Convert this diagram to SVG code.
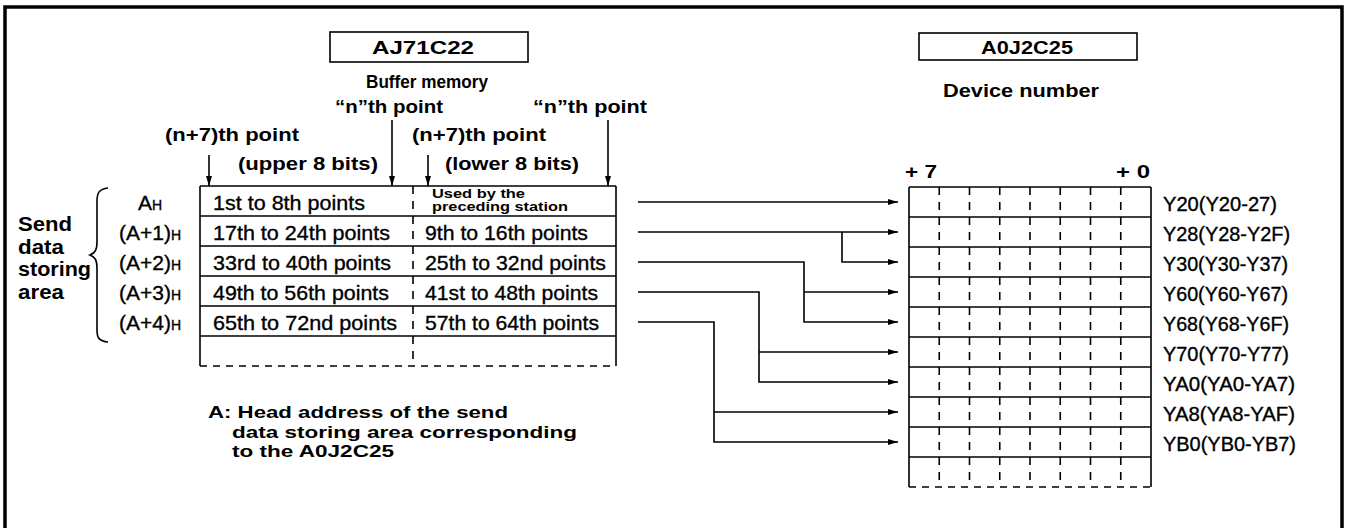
<svg xmlns="http://www.w3.org/2000/svg" width="1345" height="528" viewBox="0 0 1345 528">
<defs>
<style>
text{font-family:"Liberation Sans",Arial,sans-serif;fill:#000}
.h{font-size:19px;font-weight:bold}
.n{font-size:20px;font-weight:bold}
.m{font-size:17px;font-weight:bold}
.b{font-size:18px;font-weight:bold}
.t{font-size:21px;stroke:#000;stroke-width:.35}
.s{font-size:12px;font-weight:bold}
.y{font-size:19.5px;stroke:#000;stroke-width:.35}
.ln{fill:none;stroke:#000;stroke-width:1.6}
.dl{fill:none;stroke:#000;stroke-width:1.6;stroke-dasharray:7 6}
.dv{fill:none;stroke:#000;stroke-width:1.6;stroke-dasharray:8 7}
.cn{fill:none;stroke:#000;stroke-width:1.6}
</style>
<marker id="ah" viewBox="0 0 10 6" refX="10" refY="3" markerWidth="10" markerHeight="6" markerUnits="userSpaceOnUse" orient="auto"><path d="M0,0 L10,3 L0,6z" fill="#000"/></marker>
</defs>
<rect width="1345" height="528" fill="#fff"/>
<path d="M5,530 V7 H1342 V530" fill="none" stroke="#000" stroke-width="3.5"/>

<g id="ajbox">
<rect x="330" y="32" width="198" height="30" class="ln" stroke-width="2"/>
<text class="h" x="372" y="54" textLength="102" lengthAdjust="spacingAndGlyphs">AJ71C22</text>
</g>
<g id="a0box">
<rect x="919" y="33" width="218" height="27" class="ln" stroke-width="2"/>
<text class="h" x="981" y="54" textLength="92" lengthAdjust="spacingAndGlyphs">A0J2C25</text>
</g>

<g id="headers">
<text class="b" x="366" y="88" textLength="122" lengthAdjust="spacingAndGlyphs">Buffer memory</text>
<text class="h" x="335" y="113" textLength="108" lengthAdjust="spacingAndGlyphs">“n”th point</text>
<text class="h" x="533" y="113" textLength="114" lengthAdjust="spacingAndGlyphs">“n”th point</text>
<text class="h" x="165" y="141" textLength="134" lengthAdjust="spacingAndGlyphs">(n+7)th point</text>
<text class="h" x="412" y="141" textLength="134" lengthAdjust="spacingAndGlyphs">(n+7)th point</text>
<text class="h" x="238" y="170" textLength="140" lengthAdjust="spacingAndGlyphs">(upper 8 bits)</text>
<text class="h" x="445" y="170" textLength="134" lengthAdjust="spacingAndGlyphs">(lower 8 bits)</text>
<text class="h" x="943" y="97" textLength="156" lengthAdjust="spacingAndGlyphs">Device number</text>
<text class="h" x="905" y="178" textLength="32" lengthAdjust="spacingAndGlyphs">+ 7</text>
<text class="h" x="1116" y="178" textLength="34" lengthAdjust="spacingAndGlyphs">+ 0</text>
</g>

<g id="side">
<text class="n" x="18" y="231" textLength="54" lengthAdjust="spacingAndGlyphs">Send</text>
<text class="n" x="18" y="254" textLength="46" lengthAdjust="spacingAndGlyphs">data</text>
<text class="n" x="18" y="276" textLength="73" lengthAdjust="spacingAndGlyphs">storing</text>
<text class="n" x="18" y="299" textLength="46" lengthAdjust="spacingAndGlyphs">area</text>
<path d="M108,188 C99,189 97,193 97,201 L97,242 C97,250 95,253 90,255 C95,257 97,260 97,268 L97,330 C97,338 99,341 108,342" class="ln"/>
<text class="t" x="150" y="210" text-anchor="middle">A<tspan font-size="14">H</tspan></text>
<text class="t" x="150" y="240" text-anchor="middle">(A+1)<tspan font-size="14">H</tspan></text>
<text class="t" x="150" y="270" text-anchor="middle">(A+2)<tspan font-size="14">H</tspan></text>
<text class="t" x="150" y="300" text-anchor="middle">(A+3)<tspan font-size="14">H</tspan></text>
<text class="t" x="150" y="330" text-anchor="middle">(A+4)<tspan font-size="14">H</tspan></text>
</g>

<g id="buffer">
<path d="M200,186 V366 M616,186 V366 M200,186 H616 M200,216 H616 M200,246 H616 M200,276 H616 M200,306 H616 M200,336 H616" class="ln"/>
<path d="M200,366 H616" class="dl"/>
<path d="M413,186 V366" class="dv"/>
<text class="t" x="213" y="210" textLength="152" lengthAdjust="spacingAndGlyphs">1st to 8th points</text>
<text class="t" x="213" y="240" textLength="177" lengthAdjust="spacingAndGlyphs">17th to 24th points</text>
<text class="t" x="213" y="270" textLength="178" lengthAdjust="spacingAndGlyphs">33rd to 40th points</text>
<text class="t" x="213" y="300" textLength="176" lengthAdjust="spacingAndGlyphs">49th to 56th points</text>
<text class="t" x="213" y="330" textLength="184" lengthAdjust="spacingAndGlyphs">65th to 72nd points</text>
<text class="s" x="432" y="197.5" textLength="93" lengthAdjust="spacingAndGlyphs">Used by the</text>
<text class="s" x="432" y="211" textLength="136" lengthAdjust="spacingAndGlyphs">preceding station</text>
<text class="t" x="425" y="240" textLength="163" lengthAdjust="spacingAndGlyphs">9th to 16th points</text>
<text class="t" x="425" y="270" textLength="181" lengthAdjust="spacingAndGlyphs">25th to 32nd points</text>
<text class="t" x="425" y="300" textLength="173" lengthAdjust="spacingAndGlyphs">41st to 48th points</text>
<text class="t" x="425" y="330" textLength="174" lengthAdjust="spacingAndGlyphs">57th to 64th points</text>
</g>

<g id="device">
<path d="M909,187 V487 M1151,187 V487 M909,187 H1151 M909,217 H1151 M909,247 H1151 M909,277 H1151 M909,307 H1151 M909,337 H1151 M909,367 H1151 M909,397 H1151 M909,427 H1151 M909,457 H1151" class="ln"/>
<path d="M909,487 H1151" class="dl"/>
<path d="M939.25,187 V487 M969.5,187 V487 M999.75,187 V487 M1030,187 V487 M1060.25,187 V487 M1090.5,187 V487 M1120.75,187 V487" class="dv"/>
<text class="y" x="1163" y="211" textLength="114" lengthAdjust="spacingAndGlyphs">Y20(Y20-27)</text>
<text class="y" x="1163" y="241" textLength="127" lengthAdjust="spacingAndGlyphs">Y28(Y28-Y2F)</text>
<text class="y" x="1163" y="271" textLength="125" lengthAdjust="spacingAndGlyphs">Y30(Y30-Y37)</text>
<text class="y" x="1163" y="301" textLength="125" lengthAdjust="spacingAndGlyphs">Y60(Y60-Y67)</text>
<text class="y" x="1163" y="331" textLength="126" lengthAdjust="spacingAndGlyphs">Y68(Y68-Y6F)</text>
<text class="y" x="1163" y="361" textLength="126" lengthAdjust="spacingAndGlyphs">Y70(Y70-Y77)</text>
<text class="y" x="1163" y="391" textLength="132" lengthAdjust="spacingAndGlyphs">YA0(YA0-YA7)</text>
<text class="y" x="1163" y="421" textLength="132" lengthAdjust="spacingAndGlyphs">YA8(YA8-YAF)</text>
<text class="y" x="1163" y="451" textLength="133" lengthAdjust="spacingAndGlyphs">YB0(YB0-YB7)</text>
</g>

<g id="note">
<text class="m" x="208" y="418" textLength="300" lengthAdjust="spacingAndGlyphs">A: Head address of the send</text>
<text class="m" x="232" y="437.5" textLength="345" lengthAdjust="spacingAndGlyphs">data storing area corresponding</text>
<text class="m" x="232" y="457" textLength="162" lengthAdjust="spacingAndGlyphs">to the A0J2C25</text>
</g>

<g id="connectors">
<path d="M209,155 V186" class="cn" marker-end="url(#ah)"/>
<path d="M392,120 V186" class="cn" marker-end="url(#ah)"/>
<path d="M428,155 V186" class="cn" marker-end="url(#ah)"/>
<path d="M608,120 V186" class="cn" marker-end="url(#ah)"/>
<path d="M638,202 H898" class="cn" marker-end="url(#ah)"/>
<path d="M638,232 H898" class="cn" marker-end="url(#ah)"/>
<path d="M842,232 V262 H898" class="cn" marker-end="url(#ah)"/>
<path d="M638,262 H804 V322 H898" class="cn" marker-end="url(#ah)"/>
<path d="M804,292 H898" class="cn" marker-end="url(#ah)"/>
<path d="M638,292 H759 V382 H898" class="cn" marker-end="url(#ah)"/>
<path d="M759,352 H898" class="cn" marker-end="url(#ah)"/>
<path d="M638,322 H714 V442 H898" class="cn" marker-end="url(#ah)"/>
<path d="M714,412 H898" class="cn" marker-end="url(#ah)"/>
</g>
</svg>
